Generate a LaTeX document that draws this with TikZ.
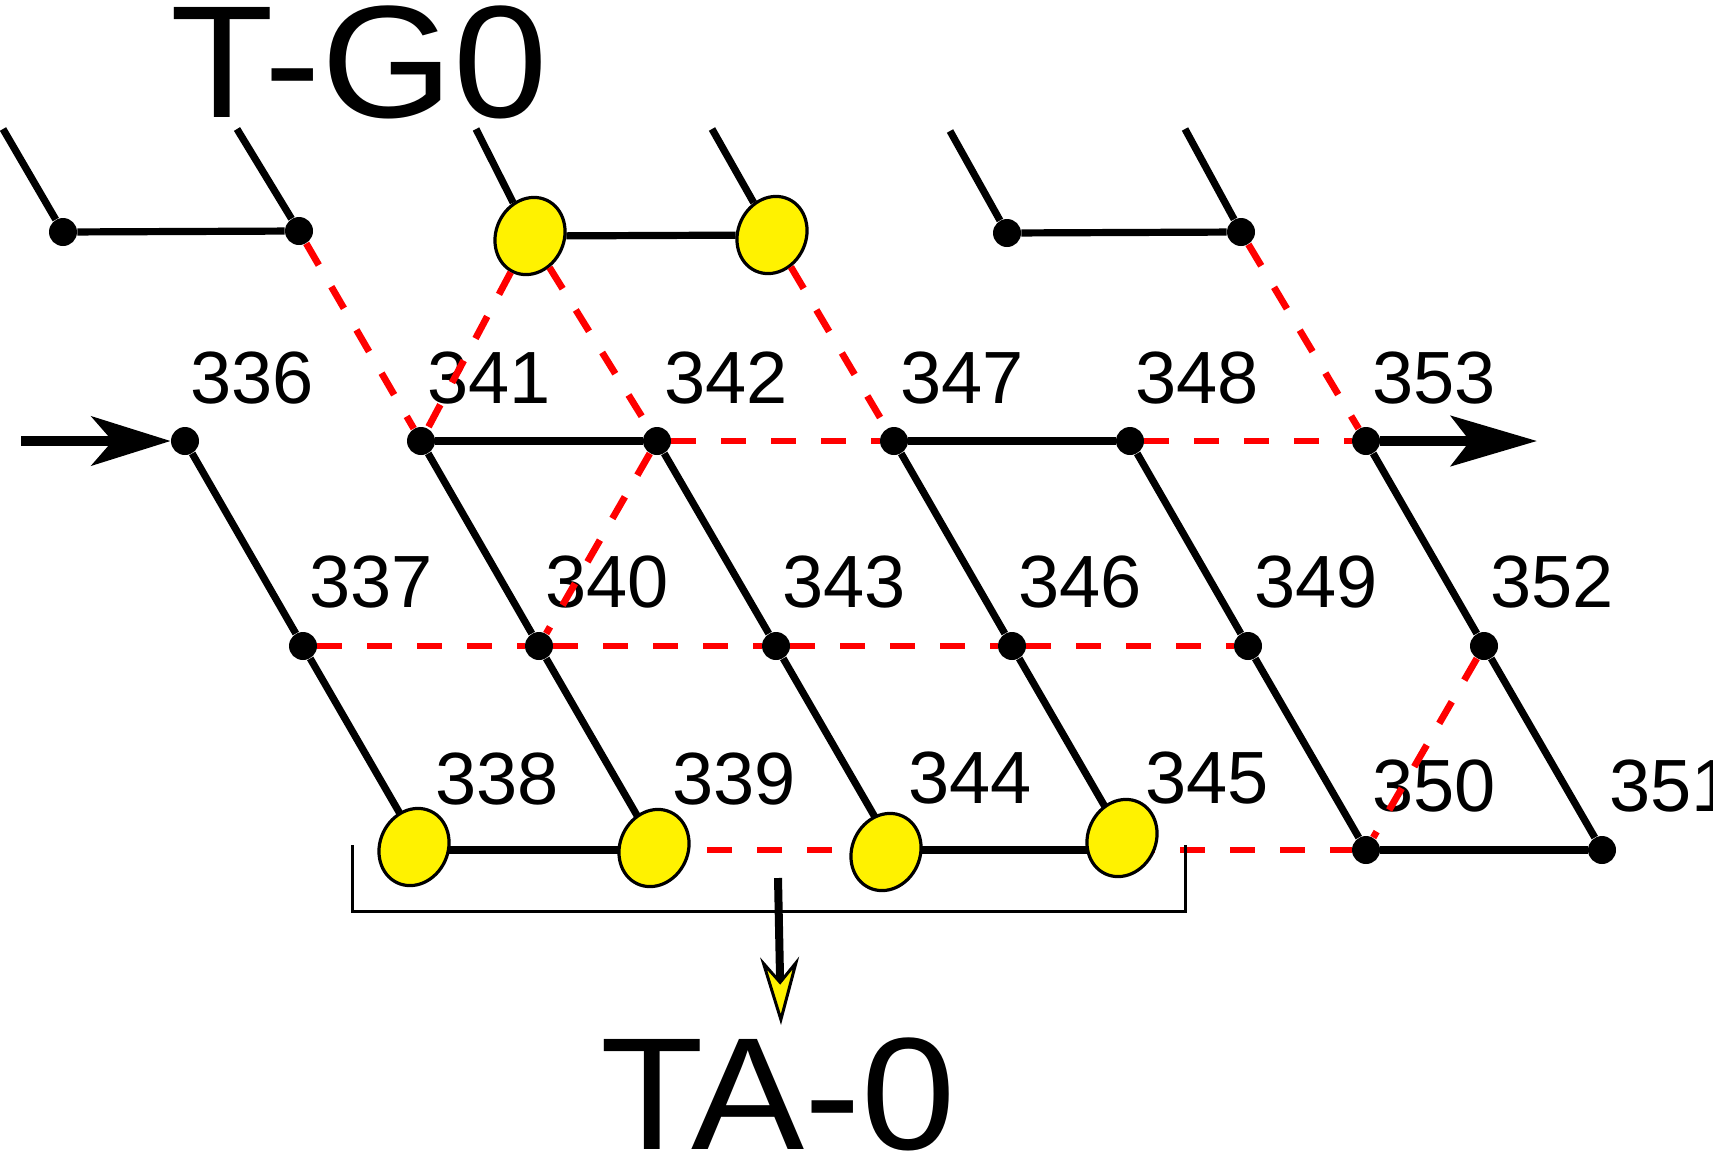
\documentclass[tikz,border=0pt]{standalone}
\usepackage{fontspec}
\setmainfont{Liberation Sans}
\usetikzlibrary{shapes.geometric,arrows.meta}

\begin{document}
\begin{tikzpicture}[x=0.5pt,y=-0.5pt,
  dot/.style={shape=circle,fill=black,inner sep=0pt,minimum size=14pt},
  gate/.style={shape=ellipse,draw=black,fill=yellow,line width=1.6pt,inner sep=0pt,minimum width=34pt,minimum height=39.5pt,rotate=-25},
  num/.style={anchor=base west,inner sep=0pt,font=\fontsize{37}{40}\selectfont},
  title/.style={anchor=base west,inner sep=0pt,xscale=1.06,font=\fontsize{80}{90}\selectfont},
  wire/.style={line width=3.6pt},
  link/.style={red,line width=3.4pt,dash pattern=on 12.5pt off 12.5pt},
  flow/.style={line width=5pt}]
\useasboundingbox (0,0) rectangle (1713,1152);
% titles
\node[title] (tg0) at (170,117) {T-G0};
\node[title] (ta0) at (600,1149) {TA-0};
% upper row
\node[dot] (t1) at (63,232) {};
\node[dot] (t2) at (299,231) {};
\node[gate] (t3) at (530,236) {};
\node[gate] (t4) at (772,235) {};
\node[dot] (t5) at (1007,233) {};
\node[dot] (t6) at (1241,232) {};
\coordinate (s1) at (3,129);
\coordinate (s2) at (237,129);
\coordinate (s3) at (476,129);
\coordinate (s4) at (712,129);
\coordinate (s5) at (950,131);
\coordinate (s6) at (1185,129);
% lattice
\node[dot] (n336) at (185,441) {};
\node[dot] (n341) at (421,441) {};
\node[dot] (n342) at (657,441) {};
\node[dot] (n347) at (894,441) {};
\node[dot] (n348) at (1130,441) {};
\node[dot] (n353) at (1366,441) {};
\node[dot] (n337) at (303,646) {};
\node[dot] (n340) at (539,646) {};
\node[dot] (n343) at (776,646) {};
\node[dot] (n346) at (1012,646) {};
\node[dot] (n349) at (1248,646) {};
\node[dot] (n352) at (1484,646) {};
\coordinate (n338) at (421,850);
\coordinate (n339) at (657,850);
\coordinate (n344) at (894,850);
\coordinate (n345) at (1130,850);
\node[dot] (n350) at (1366,850) {};
\node[dot] (n351) at (1602,850) {};
% numbers
\node[num] (l336) at (190,403) {336};
\node[num] (l341) at (427,403) {341};
\node[num] (l342) at (664,403) {342};
\node[num] (l347) at (900,403) {347};
\node[num] (l348) at (1135,403) {348};
\node[num] (l353) at (1372,403) {353};
\node[num] (l337) at (309,607) {337};
\node[num] (l340) at (545,607) {340};
\node[num] (l343) at (782,607) {343};
\node[num] (l346) at (1018,607) {346};
\node[num] (l349) at (1254,607) {349};
\node[num] (l352) at (1490,607) {352};
\node[num] (l338) at (435,804) {338};
\node[num] (l339) at (672,804) {339};
\node[num] (l344) at (908,803) {344};
\node[num] (l345) at (1145,803) {345};
\node[num] (l350) at (1372,811) {350};
\node[num] (l351) at (1609,811) {351};
% solid
\path [wire] (s1) edge (t1) (s2) edge (t2) (s3) edge (t3);
\path [wire] (s4) edge (t4) (s5) edge (t5) (s6) edge (t6);
\path [wire] (t1) edge (t2) (t3) edge (t4) (t5) edge (t6);
\path [wire] (n341) edge (n342) (n347) edge (n348);
\path [wire] (n336) edge (n337) (n341) edge (n340) (n342) edge (n343);
\path [wire] (n347) edge (n346) (n348) edge (n349) (n353) edge (n352);
\path [wire] (n337) edge (n338) (n340) edge (n339) (n343) edge (n344);
\path [wire] (n346) edge (n345) (n349) edge (n350) (n352) edge (n351);
\path [wire] (n338) edge (n339) (n344) edge (n345) (n350) edge (n351);
% dashed
\path [link] (t2) edge (n341) (t3) edge (n341) (t3) edge (n342);
\path [link] (t4) edge (n347) (t6) edge (n353);
\path [link] (n342) edge (n347) (n348) edge (n353) (n342) edge (n340);
\path [link] (n337) edge (n340) (n340) edge (n343) (n343) edge (n346) (n346) edge (n349);
\path [link] (n352) edge (n350) (n339) edge (n344) (n345) edge (n350);
% lower gates, over the lines
\node[gate] (e338) at (414,847) {};
\node[gate] (e339) at (654,848) {};
\node[gate] (e344) at (886,852) {};
\node[gate] (e345) at (1122,838) {};
% arrows
\coordinate (in) at (21,441);
\coordinate (out) at (1537,441);
\draw [flow,-{Stealth[length=39.5pt,width=24.5pt,inset=10.5pt]}] (in) -- (n336);
\draw [flow,-{Stealth[length=43pt,width=25pt,inset=9.5pt]}] (n353) -- (out);
% bracket
\coordinate (b1) at (352,845);
\coordinate (b2) at (352,911);
\coordinate (b3) at (1185,911);
\coordinate (b4) at (1185,845);
\draw [line width=1.5pt] (b1) -- (b2) -- (b3) -- (b4);
\coordinate (dn) at (778,878);
\coordinate (tip) at (781,1025);
\draw [line width=4pt,-{Stealth[length=34pt,width=19.5pt,inset=11.5pt,fill=yellow,line width=1.5pt]}] (dn) -- (tip);
\end{tikzpicture}
\end{document}
